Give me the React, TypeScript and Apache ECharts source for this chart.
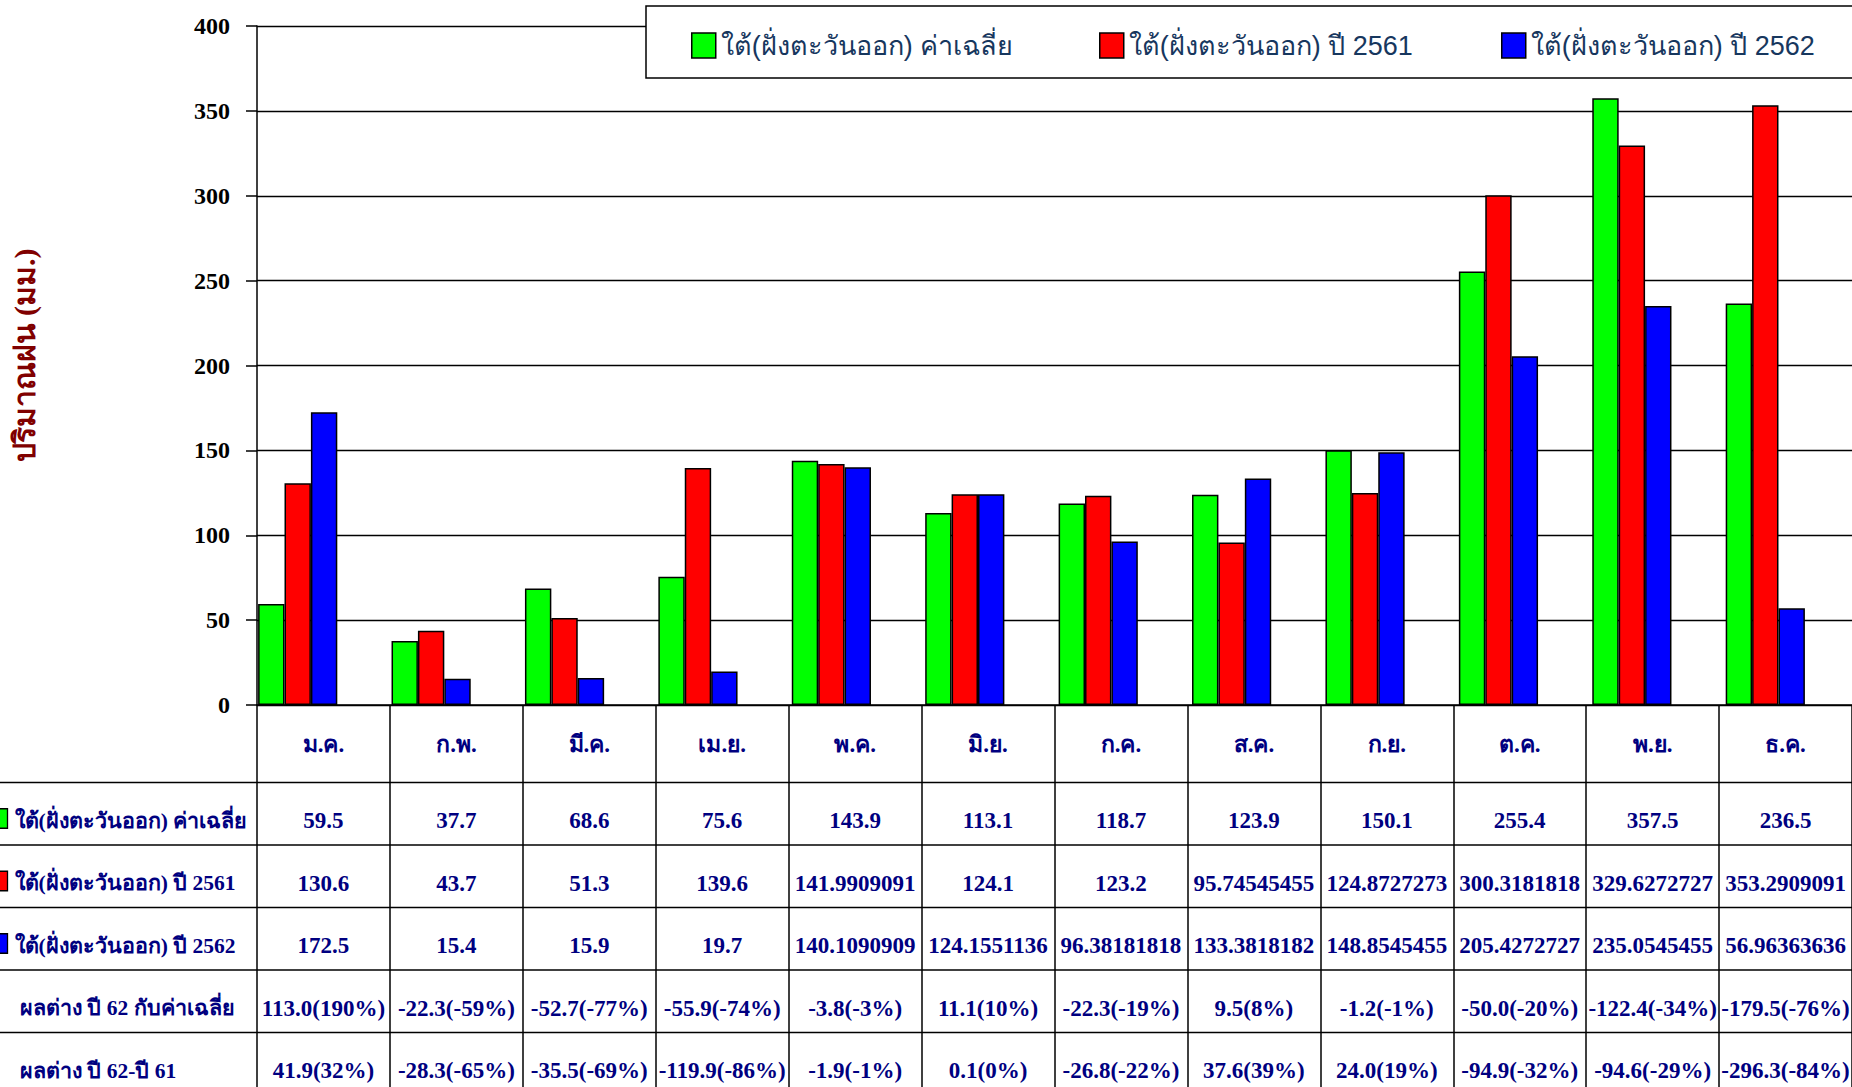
import React, { useEffect, useRef } from "react";
import * as echarts from "echarts";

const months = ["ม.ค.", "ก.พ.", "มี.ค.", "เม.ย.", "พ.ค.", "มิ.ย.", "ก.ค.", "ส.ค.", "ก.ย.", "ต.ค.", "พ.ย.", "ธ.ค."];
const nameAvg = "ใต้(ฝั่งตะวันออก) ค่าเฉลี่ย";
const name61 = "ใต้(ฝั่งตะวันออก) ปี 2561";
const name62 = "ใต้(ฝั่งตะวันออก) ปี 2562";
const avgValues = [59.5, 37.7, 68.6, 75.6, 143.9, 113.1, 118.7, 123.9, 150.1, 255.4, 357.5, 236.5];
const values61 = [130.6, 43.7, 51.3, 139.6, 141.9909091, 124.1, 123.2, 95.74545455, 124.8727273, 300.3181818, 329.6272727, 353.2909091];
const values62 = [172.5, 15.4, 15.9, 19.7, 140.1090909, 124.1551136, 96.38181818, 133.3818182, 148.8545455, 205.4272727, 235.0545455, 56.96363636];
const diffAvgLabel = "ผลต่าง ปี 62 กับค่าเฉลี่ย";
const diffAvg = ["113.0(190%)", "-22.3(-59%)", "-52.7(-77%)", "-55.9(-74%)", "-3.8(-3%)", "11.1(10%)", "-22.3(-19%)", "9.5(8%)", "-1.2(-1%)", "-50.0(-20%)", "-122.4(-34%)", "-179.5(-76%)"];
const diffYearLabel = "ผลต่าง ปี 62-ปี 61";
const diffYear = ["41.9(32%)", "-28.3(-65%)", "-35.5(-69%)", "-119.9(-86%)", "-1.9(-1%)", "0.1(0%)", "-26.8(-22%)", "37.6(39%)", "24.0(19%)", "-94.9(-32%)", "-94.6(-29%)", "-296.3(-84%)"];
const yTitle = "ปริมาณฝน (มม.)";

const GREEN = "#00ff00";
const RED = "#ff0000";
const BLUE = "#0000ff";
const NAVY = "#000080";
const SERIF = '"Liberation Serif", "Times New Roman", serif';
const SANS = '"Liberation Sans", Arial, sans-serif';

export default function App() {
  const ref = useRef<HTMLDivElement>(null);
  useEffect(() => {
    const el = ref.current!;
    const chart = echarts.init(el, null, { renderer: "svg" });
    const W = 1852;
    const plotLeft = 257;
    const plotRight = -6;
    const shift = 26;
    const plotTop = 26;
    const plotBottom = 1087 - 705;

    const barStyle = (c: string) => ({ color: c, borderColor: "#000", borderWidth: 1.5 });
    const legendCommon = {
      top: 32,
      padding: 0,
      icon: "rect",
      itemWidth: 24,
      itemHeight: 25,
      itemStyle: { borderColor: "#000", borderWidth: 1.5 },
      textStyle: { color: "#17375e", fontSize: 27, fontFamily: SANS },
      selectedMode: false,
    };

    chart.setOption({
      animation: false,
      backgroundColor: "#fff",
      grid: [
        { left: plotLeft, right: plotRight, top: plotTop, bottom: plotBottom },
        { left: plotLeft - shift, right: plotRight + shift, top: plotTop, bottom: plotBottom },
      ],
      legend: [
        { ...legendCommon, left: 691, data: [nameAvg] },
        { ...legendCommon, left: 1099, data: [name61] },
        { ...legendCommon, left: 1501, data: [name62] },
      ],
      xAxis: [
        {
          type: "category",
          gridIndex: 0,
          data: months,
          boundaryGap: true,
          axisLine: { lineStyle: { color: "#000", width: 1.5 } },
          axisTick: { show: true, interval: 0, length: 400, alignWithLabel: false, lineStyle: { color: "#000", width: 1.5 } },
          axisLabel: {
            interval: 0,
            margin: 39,
            verticalAlign: "middle",
            color: NAVY,
            fontWeight: "bold",
            fontSize: 23,
            fontFamily: SERIF,
          },
        },
        {
          type: "category",
          gridIndex: 1,
          data: months,
          show: false,
        },
      ],
      yAxis: [
        {
          type: "value",
          gridIndex: 0,
          min: 0,
          max: 400,
          interval: 50,
          name: yTitle,
          nameLocation: "middle",
          nameGap: 218,
          nameTextStyle: { color: "#800000", fontSize: 30, fontWeight: "bold", fontFamily: SERIF, padding: [0, 0, 0, 20] },
          axisLine: { show: true, lineStyle: { color: "#000", width: 1.5 } },
          axisTick: { show: true, length: 11, lineStyle: { color: "#000", width: 1.5 } },
          axisLabel: { margin: 27, color: "#000", fontWeight: "bold", fontSize: 24, fontFamily: SERIF },
          splitLine: { show: true, lineStyle: { color: "#000", width: 1.3 } },
        },
        { type: "value", gridIndex: 1, min: 0, max: 400, interval: 50, show: false, splitLine: { show: false } },
      ],
      series: [
        { name: nameAvg, type: "bar", xAxisIndex: 1, yAxisIndex: 1, data: avgValues, barWidth: 26.4, barGap: "0%", itemStyle: barStyle(GREEN) },
        { name: name61, type: "bar", xAxisIndex: 1, yAxisIndex: 1, data: values61, barWidth: 26.4, barGap: "0%", itemStyle: barStyle(RED) },
        { name: name62, type: "bar", xAxisIndex: 1, yAxisIndex: 1, data: values62, barWidth: 26.4, barGap: "0%", itemStyle: barStyle(BLUE) },
      ],
    });

    const rows = [
      { label: nameAvg, color: GREEN, cells: avgValues.map((v) => String(v)) },
      { label: name61, color: RED, cells: values61.map((v) => String(v)) },
      { label: name62, color: BLUE, cells: values62.map((v) => String(v)) },
      { label: diffAvgLabel, color: null, cells: diffAvg },
      { label: diffYearLabel, color: null, cells: diffYear },
    ];
    const rowTop0 = 782.5;
    const rowH = 62.5;
    const graphic: any[] = [
      {
        type: "rect",
        shape: { x: 646, y: 6, width: 1300, height: 72 },
        style: { fill: "#fff", stroke: "#000", lineWidth: 1.5 },
        z: 0,
      },
    ];
    for (let r = 0; r <= rows.length; r++) {
      const y = rowTop0 + r * rowH;
      graphic.push({
        type: "line",
        shape: { x1: -10, y1: y, x2: W + 10, y2: y },
        style: { stroke: "#000", lineWidth: 1.5 },
        z: 5,
      });
    }
    rows.forEach((row, r) => {
      const cy = rowTop0 + r * rowH + rowH / 2 + 7;
      if (row.color) {
        graphic.push({
          type: "rect",
          shape: { x: -12, y: cy - 12, width: 19.5, height: 19.5 },
          style: { fill: row.color, stroke: "#000", lineWidth: 1.3 },
          z: 5,
        });
      }
      graphic.push({
        type: "text",
        x: row.color ? 14.5 : 20,
        y: cy,
        style: {
          text: row.label,
          fill: NAVY,
          font: `bold 21.5px ${SERIF}`,
          textAlign: "left",
          textVerticalAlign: "middle",
        },
        z: 5,
      });
      row.cells.forEach((txt, i) => {
        const x = chart.convertToPixel({ xAxisIndex: 0 }, i) as number;
        graphic.push({
          type: "text",
          x,
          y: cy,
          style: {
            text: txt,
            fill: NAVY,
            font: `bold 23px ${SERIF}`,
            textAlign: "center",
            textVerticalAlign: "middle",
          },
          z: 5,
        });
      });
    });
    chart.setOption({ graphic });

    return () => chart.dispose();
  }, []);
  return <div ref={ref} style={{ position: "fixed", left: 0, top: 0, width: 1852, height: 1087 }} />;
}
